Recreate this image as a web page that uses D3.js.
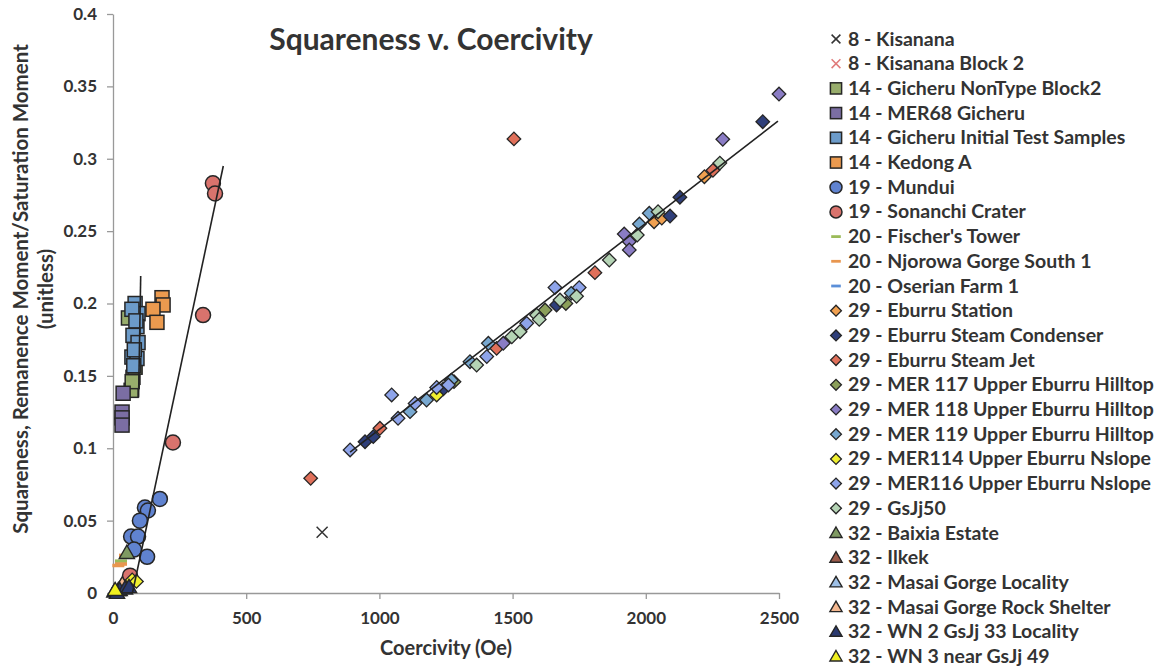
<!DOCTYPE html>
<html>
<head>
<meta charset="utf-8">
<script src="https://cdn.jsdelivr.net/npm/d3@7"></script>
<style>
  body { margin: 0; background: #fff; }
  text { font-family: Lato, "Open Sans", sans-serif; }
</style>
</head>
<body>
<svg id="chart"></svg>
<script>
// ---- data ----
const xTicks = [0, 500, 1000, 1500, 2000, 2500];
const yTicks = [0, 0.05, 0.1, 0.15, 0.2, 0.25, 0.3, 0.35, 0.4];

const kisanana = [[785, 0.042]];
const kisananaBlock2 = [];
const gicheruNonType = [[58, 0.190], [68, 0.140], [75, 0.149], [83, 0.156], [72, 0.146]];
const mer68Gicheru = [[38, 0.138], [34, 0.125], [34, 0.121], [34, 0.116]];
const gicheruInitial = [[83, 0.200], [94, 0.193], [71, 0.196], [90, 0.184], [75, 0.178], [94, 0.173],
  [71, 0.163], [90, 0.162], [80, 0.168], [86, 0.188], [78, 0.157]];
const kedongA = [[184, 0.204], [188, 0.199], [150, 0.196], [165, 0.187]];
const mundui = [[176, 0.065], [120, 0.059], [131, 0.057], [101, 0.050], [68, 0.039], [94, 0.039],
  [79, 0.030], [128, 0.025]];
const sonanchi = [[375, 0.283], [383, 0.276], [338, 0.192], [225, 0.104], [64, 0.012]];
const fischer = [[30, 0.022]];
const njorowa = [[45, 0.026], [30, 0.020], [20, 0.019]];
const oserian = [[15, 0.003]];
const eburruStation = [[2220, 0.2876], [2031, 0.2565], [2060, 0.259]];
const eburruCondenser = [[2439, 0.3256], [2128, 0.2734], [2091, 0.2604], [946, 0.1045], [977, 0.108],
  [1665, 0.199], [1240, 0.141]];
const eburruJet = [[1505, 0.3137], [742, 0.0792], [2252, 0.292], [1809, 0.2213], [1002, 0.1138], [1440, 0.169]];
const mer117 = [[1622, 0.1955], [1280, 0.146], [1700, 0.2]];
const mer118 = [[2500, 0.3447], [2289, 0.3134], [1919, 0.248], [1938, 0.2427], [1938, 0.237], [1465, 0.1725]];
const mer119 = [[1115, 0.1253], [1177, 0.1333], [1340, 0.1598], [1409, 0.1725], [1976, 0.2549],
  [2013, 0.2623], [1270, 0.147], [1720, 0.207]];
const mer114 = [[1215, 0.1368], [72, 0.009], [88, 0.008]];
const mer116 = [[1046, 0.1368], [890, 0.0988], [1070, 0.1207], [1134, 0.131], [1215, 0.142], [1259, 0.1437],
  [1403, 0.1633], [1553, 0.1863], [1659, 0.211], [1750, 0.211]];
const gsjj50 = [[1365, 0.1575], [1497, 0.177], [1528, 0.1805], [1590, 0.192], [1678, 0.2024], [1863, 0.230],
  [1968, 0.2473], [2278, 0.297], [2046, 0.2634], [1740, 0.205], [1600, 0.189]];
const baixia = [[52, 0.0276]];
const ilkek = [[30, 0.004]];
const masaiLocality = [[20, 0.002]];
const masaiRock = [[35, 0.006]];
const wn2 = [[5, 0.001], [25, 0.002], [45, 0.003], [60, 0.004], [15, 0.0]];
const wn3 = [[8, 0.002]];

// trend lines, end points
const trendSteep = [[73, 0], [414, 0.295]];
const trendGicheru = [[96, 0.135], [104, 0.219]];
const trendEburru = [[890, 0.0974], [2496, 0.326]];

const series = [
  { name: "8 - Kisanana", data: kisanana, shape: "x", color: "#333333" },
  { name: "8 - Kisanana Block 2", data: kisananaBlock2, shape: "x", color: "#e07a7a" },
  { name: "14 - Gicheru NonType Block2", data: gicheruNonType, shape: "square", color: "#98ad6c" },
  { name: "14 - MER68 Gicheru", data: mer68Gicheru, shape: "square", color: "#7b6ea3" },
  { name: "14 - Gicheru Initial Test Samples", data: gicheruInitial, shape: "square", color: "#6c9bc9" },
  { name: "14 - Kedong A", data: kedongA, shape: "square", color: "#eb9a4f" },
  { name: "19 - Mundui", data: mundui, shape: "circle", color: "#6083d0" },
  { name: "19 - Sonanchi Crater", data: sonanchi, shape: "circle", color: "#d9736d" },
  { name: "20 - Fischer's Tower", data: fischer, shape: "dash", color: "#9bbb59" },
  { name: "20 - Njorowa Gorge South 1", data: njorowa, shape: "dash", color: "#e8964f" },
  { name: "20 - Oserian Farm 1", data: oserian, shape: "dash", color: "#5b8fd8" },
  { name: "29 - Eburru Station", data: eburruStation, shape: "diamond", color: "#f0a050" },
  { name: "29 - Eburru Steam Condenser", data: eburruCondenser, shape: "diamond", color: "#2f3f7a" },
  { name: "29 - Eburru Steam Jet", data: eburruJet, shape: "diamond", color: "#e0705a" },
  { name: "29 - MER 117 Upper Eburru Hilltop", data: mer117, shape: "diamond", color: "#8b9f5a" },
  { name: "29 - MER 118 Upper Eburru Hilltop", data: mer118, shape: "diamond", color: "#8a7cc4" },
  { name: "29 - MER 119 Upper Eburru Hilltop", data: mer119, shape: "diamond", color: "#78a8d0" },
  { name: "29 - MER114 Upper Eburru Nslope", data: mer114, shape: "diamond", color: "#f0f030" },
  { name: "29 - MER116 Upper Eburru Nslope", data: mer116, shape: "diamond", color: "#8ea4ea" },
  { name: "29 - GsJj50", data: gsjj50, shape: "diamond", color: "#b5d4b5" },
  { name: "32 - Baixia Estate", data: baixia, shape: "triangle", color: "#7f9a62" },
  { name: "32 - Ilkek", data: ilkek, shape: "triangle", color: "#9b5a4a" },
  { name: "32 - Masai Gorge Locality", data: masaiLocality, shape: "triangle", color: "#9ec0e6" },
  { name: "32 - Masai Gorge Rock Shelter", data: masaiRock, shape: "triangle", color: "#f4b890" },
  { name: "32 - WN 2 GsJj 33 Locality", data: wn2, shape: "triangle", color: "#2a3a70" },
  { name: "32 - WN 3 near GsJj 49", data: wn3, shape: "triangle", color: "#f0f020" }
];

// ---- layout ----
const W = 1162, H = 670;
const plot = { left: 113, right: 779, top: 14, bottom: 593 };
const textColor = "#333";
const axisColor = "#999";

const svg = d3.select("#chart").attr("width", W).attr("height", H);

const x = d3.scaleLinear().domain([0, 2500]).range([plot.left, plot.right]);
const y = d3.scaleLinear().domain([0, 0.4]).range([plot.bottom, plot.top]);

// axes
const yAxisG = svg.append("g")
    .attr("transform", `translate(${plot.left},0)`)
    .call(d3.axisLeft(y).tickValues(yTicks).tickFormat(d => d).tickSize(6).tickSizeOuter(0).tickPadding(10));
const xAxisG = svg.append("g")
    .attr("transform", `translate(0,${plot.bottom})`)
    .call(d3.axisBottom(x).tickValues(xTicks).tickFormat(d => d).tickSize(6).tickSizeOuter(0).tickPadding(13));

[yAxisG, xAxisG].forEach(g => {
  g.selectAll("path, line").attr("stroke", axisColor).attr("stroke-width", 1.3);
  g.selectAll("text")
    .style("font-family", "Lato")
    .style("font-weight", "700")
    .style("font-size", "17px")
    .attr("fill", textColor);
});

// titles
svg.append("text")
    .attr("x", 431).attr("y", 50)
    .attr("text-anchor", "middle")
    .style("font-size", "30px").style("font-weight", "700")
    .attr("fill", textColor)
    .text("Squareness v. Coercivity");

svg.append("text")
    .attr("x", 446).attr("y", 655)
    .attr("text-anchor", "middle")
    .style("font-size", "20px").style("font-weight", "700")
    .attr("fill", textColor)
    .text("Coercivity (Oe)");

const yTitle = svg.append("text")
    .attr("transform", "translate(28,289) rotate(-90)")
    .attr("text-anchor", "middle")
    .style("font-size", "20.5px").style("font-weight", "700")
    .attr("fill", textColor);
yTitle.append("tspan").attr("x", 0).attr("dy", 0).text("Squareness, Remanence Moment/Saturation Moment");
yTitle.append("tspan").attr("x", 0).attr("dy", "1.2em").text("(unitless)");

// marker drawing
function marker(g, shape, color, scale) {
  const s = scale || 1;
  if (shape === "square") {
    g.append("rect").attr("x", -7 * s).attr("y", -7 * s).attr("width", 14 * s).attr("height", 14 * s)
      .attr("fill", color).attr("stroke", "#262626").attr("stroke-width", 1.5);
  } else if (shape === "circle") {
    g.append("circle").attr("r", 7.5 * s)
      .attr("fill", color).attr("stroke", "#262626").attr("stroke-width", 1.5);
  } else if (shape === "diamond") {
    g.append("path").attr("d", d3.symbol(d3.symbolSquare, 92 * s * s)())
      .attr("transform", "rotate(45)")
      .attr("fill", color).attr("stroke", "#262626").attr("stroke-width", 1.3);
  } else if (shape === "triangle") {
    g.append("path").attr("d", d3.symbol(d3.symbolTriangle, 100 * s * s)())
      .attr("transform", "translate(0,1)")
      .attr("fill", color).attr("stroke", "#262626").attr("stroke-width", 1.4);
  } else if (shape === "dash") {
    g.append("line").attr("x1", -6 * s).attr("x2", 6 * s)
      .attr("stroke", color).attr("stroke-width", 3.5 * s);
  } else if (shape === "x") {
    const r = 5.5 * s;
    g.append("path").attr("d", `M${-r},${-r}L${r},${r}M${-r},${r}L${r},${-r}`)
      .attr("stroke", color).attr("stroke-width", 1.5).attr("fill", "none");
  }
}

// points
const pts = svg.append("g").attr("class", "points");
series.forEach(s => {
  pts.selectAll(null)
    .data(s.data)
    .join("g")
    .attr("transform", d => `translate(${x(d[0])},${y(d[1])})`)
    .each(function() { marker(d3.select(this), s.shape, s.color); });
});

// trend lines
const line = d3.line().x(d => x(d[0])).y(d => y(d[1]));
[trendSteep, trendGicheru, trendEburru].forEach(t => {
  svg.append("path").attr("d", line(t))
    .attr("stroke", "#222").attr("stroke-width", 1.6).attr("fill", "none");
});

// legend
const legend = svg.append("g").attr("transform", "translate(836,39)");
const rows = legend.selectAll("g")
    .data(series)
    .join("g")
    .attr("transform", (d, i) => `translate(0,${i * 24.7})`);
rows.each(function(d) { marker(d3.select(this), d.shape, d.color, 0.8); });
rows.append("text")
    .attr("x", 12).attr("y", 6.5)
    .style("font-size", "19.5px").style("font-weight", "700")
    .attr("fill", textColor)
    .text(d => d.name);
</script>
</body>
</html>
